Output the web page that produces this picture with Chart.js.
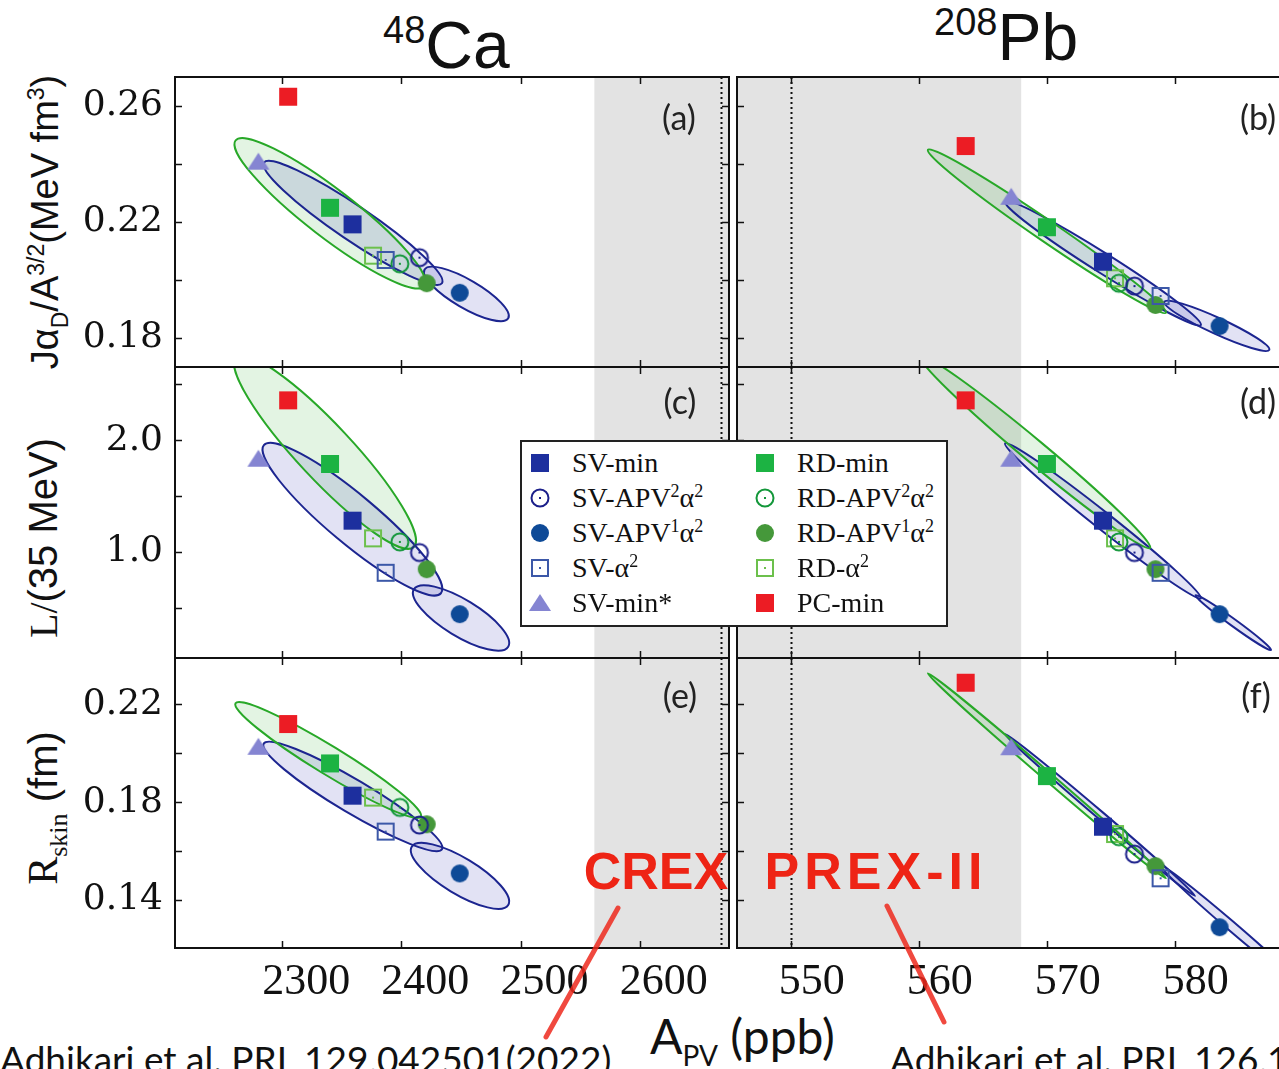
<!DOCTYPE html>
<html>
<head>
<meta charset="utf-8">
<title>APV correlations 48Ca / 208Pb</title>
<script src="https://cdn.jsdelivr.net/npm/chart.js@4.4.1/dist/chart.umd.min.js"></script>
<style>
html,body{margin:0;padding:0;background:#fff;}
#page{position:relative;width:1279px;height:1069px;overflow:hidden;background:#fff;}
#page canvas.panel{position:absolute;}
.t{position:absolute;white-space:nowrap;line-height:1;color:#111;}
.sans{font-family:'Liberation Sans',Arial,sans-serif;}
.lato{font-family:Lato,'Liberation Sans',sans-serif;}
.serif{font-family:'Liberation Serif','Times New Roman',serif;}
.rot{transform:translate(-50%,-50%) rotate(-90deg);}
.ctr{transform:translate(-50%,-50%);}
.plab{font-family:Lato,sans-serif;font-size:34px;color:#222;z-index:4;}
.exp{font-family:'Liberation Sans',Arial,sans-serif;font-weight:bold;font-size:52px;color:#ee2415;z-index:6;}
#legend{position:absolute;left:520px;top:440px;width:428px;height:187px;box-sizing:border-box;border:2px solid #222;background:#fff;z-index:5;}
#legend .li{position:absolute;height:30px;line-height:30px;font-family:'Liberation Serif',serif;font-size:28px;color:#111;white-space:nowrap;}
#legend .li canvas{position:absolute;left:0;top:2px;}
#legend .li span.lt{position:absolute;left:45px;top:0;}
#legend .sp{font-size:18px;position:relative;top:-10px;}
#marks{position:absolute;left:0;top:0;z-index:7;pointer-events:none;}
</style>
</head>
<body>
<div id="page">
  <div class="t sans" style="left:383px;top:12px;font-size:66px;"><span style="font-size:38px;position:relative;top:-25px;">48</span>Ca</div>
  <div class="t sans" style="left:934px;top:4px;font-size:66px;"><span style="font-size:38px;position:relative;top:-25px;">208</span>Pb</div>

  <div class="t sans rot" style="left:45px;top:222px;font-size:38px;">J&alpha;<span style="font-size:23px;position:relative;top:10px;">D</span>/A<span style="font-size:23px;position:relative;top:-14px;">3/2</span>(MeV fm<span style="font-size:23px;position:relative;top:-14px;">3</span>)</div>
  <div class="t rot" style="left:43px;top:538px;font-size:40px;"><span class="serif">L/</span><span class="sans">(35 MeV)</span></div>
  <div class="t rot" style="left:43px;top:808px;font-size:40px;"><span class="serif" style="font-size:42px;">R</span><span class="serif" style="font-size:26px;position:relative;top:10px;">skin</span><span class="sans"> (fm)</span></div>

  <div class="t plab ctr" style="left:679px;top:117px;">(a)</div>
  <div class="t plab ctr" style="left:1258px;top:117px;">(b)</div>
  <div class="t plab ctr" style="left:680px;top:401px;">(c)</div>
  <div class="t plab ctr" style="left:1258px;top:401px;">(d)</div>
  <div class="t plab ctr" style="left:680px;top:695px;">(e)</div>
  <div class="t plab ctr" style="left:1256px;top:695px;">(f)</div>

  <div class="t exp ctr" style="left:656px;top:871px;">CREX</div>
  <div class="t exp ctr" style="left:876px;top:871px;letter-spacing:5px;">PREX-II</div>

  <div class="t lato" style="left:650px;top:1012px;font-size:48px;">A<span style="font-size:28px;position:relative;top:12px;">PV</span> (ppb)</div>
  <div class="t lato" style="left:0px;top:1040px;font-size:37px;">Adhikari et al. PRL 129,042501(2022)</div>
  <div class="t lato" style="left:890px;top:1040px;font-size:37px;">Adhikari et al. PRL 126,172502(2021)</div>

  <div id="legend"></div>
  <svg id="marks" width="1279" height="1069">
    <line x1="618" y1="908" x2="546" y2="1037" stroke="#ee2a1e" stroke-width="5" stroke-linecap="round" opacity="0.85"/>
    <line x1="887" y1="906" x2="944" y2="1022" stroke="#ee2a1e" stroke-width="5" stroke-linecap="round" opacity="0.85"/>
  </svg>
</div>

<script>
// model order (also legend order: first five left column, last five right column)
const models = ['SV-min', 'SV-APV²α²', 'SV-APV¹α²', 'SV-α²', 'SV-min*',
                'RD-min', 'RD-APV²α²', 'RD-APV¹α²', 'RD-α²', 'PC-min'];

// A_PV in ppb
const apvCa = [2359.0, 2415.2, 2449.0, 2386.8, 2280.0, 2340.1, 2398.7, 2421.3, 2376.2, 2305.0];
const apvPb = [574.39, 576.85, 583.50, 578.89, 567.22, 570.01, 575.64, 578.49, 575.33, 563.66];

// J alpha_D / A^(3/2)  (MeV fm^3)
const alphaCa = [0.2192, 0.2077, 0.1956, 0.2069, 0.2408, 0.2249, 0.2056, 0.1989, 0.2084, 0.2632];
const alphaPb = [0.2063, 0.1979, 0.1841, 0.1945, 0.2287, 0.2182, 0.1989, 0.1914, 0.2006, 0.2462];

// L / (35 MeV), same model value in both columns
const slopeL = [1.281, 0.996, 0.445, 0.815, 1.835, 1.788, 1.091, 0.847, 1.123, 2.357];

// neutron skin (fm)
const skinCa = [0.1827, 0.1707, 0.1509, 0.1680, 0.2027, 0.1959, 0.1779, 0.1710, 0.1819, 0.2120];
const skinPb = [0.1700, 0.1588, 0.1289, 0.1489, 0.2025, 0.1907, 0.1659, 0.1539, 0.1670, 0.2289];

// measurements: central value and error
const crex = {value: 2668, err: 106};
const prex = {value: 550, err: 18};

// covariance ellipses: centre x, centre y, tip of long axis x, y, minor/major ratio, family
const ellA = [[2340.1, 0.2230, 2419.4, 0.1979, 0.20, 'RD'],
              [2359.4, 0.2197, 2434.1, 0.1989, 0.16, 'SV'],
              [2454.6, 0.1952, 2489.7, 0.1868, 0.29, 'SV']];
const ellB = [[570.01, 0.2168, 579.31, 0.1887, 0.072, 'RD'],
              [574.39, 0.2058, 582.04, 0.1845, 0.085, 'SV'],
              [583.28, 0.1842, 587.38, 0.1759, 0.14, 'SV']];
const ellC = [[2335.9, 1.895, 2410.4, 1.046, 0.21, 'RD'],
              [2358.9, 1.294, 2433.2, 0.632, 0.21, 'SV'],
              [2450.1, 0.411, 2489.7, 0.154, 0.33, 'SV']];
const ellD = [[569.08, 1.895, 578.07, 1.037, 0.075, 'RD'],
              [574.39, 1.280, 582.04, 0.587, 0.068, 'SV'],
              [584.57, 0.370, 587.52, 0.125, 0.075, 'SV']];
const ellE = [[2338.6, 0.1973, 2416.4, 0.1741, 0.13, 'RD'],
              [2359.3, 0.1824, 2434.1, 0.1608, 0.16, 'SV'],
              [2449.2, 0.1499, 2489.7, 0.1380, 0.32, 'SV']];
const ellF = [[570.01, 0.1908, 579.31, 0.1489, 0.027, 'RD'],
              [574.16, 0.1748, 581.58, 0.1417, 0.03, 'SV'],
              [584.32, 0.1298, 589.78, 0.1053, 0.05, 'SV']];

// ticks
const ticksCa = [2300, 2400, 2500, 2600];
const ticksPb = [550, 560, 570, 580];
const ticksAlpha = [0.18, 0.20, 0.22, 0.24, 0.26];
const labelsAlpha = ['0.18', '', '0.22', '', '0.26'];
const ticksL = [0.5, 1.0, 1.5, 2.0, 2.5];
const labelsL = ['', '1.0', '', '2.0', ''];
const ticksSkin = [0.14, 0.16, 0.18, 0.20, 0.22];
const labelsSkin = ['0.14', '', '0.18', '', '0.22'];

// marker looks
const markerShape = ['square', 'ocircle', 'circle', 'osquare', 'triangle',
                     'square', 'ocircle', 'circle', 'osquare', 'square'];
const markerColor = ['#1d2f9e', '#1b1f8a', '#0e4a97', '#3c58a8', '#8585d2',
                     '#1cb343', '#13973a', '#45983a', '#6cc04c', '#ec1c24'];

function makeMarker(shape, color) {
  const c = document.createElement('canvas');
  c.width = 26; c.height = 26;
  const g = c.getContext('2d');
  const m = 13;
  g.fillStyle = color; g.strokeStyle = color; g.lineWidth = 2;
  if (shape === 'square') {
    g.fillRect(m - 9, m - 9, 18, 18);
  } else if (shape === 'osquare') {
    g.strokeRect(m - 8, m - 8, 16, 16);
    g.fillRect(m - 1, m - 1, 2, 2);
  } else if (shape === 'circle') {
    g.beginPath(); g.arc(m, m, 9, 0, Math.PI * 2); g.fill();
  } else if (shape === 'ocircle') {
    g.beginPath(); g.arc(m, m, 8.5, 0, Math.PI * 2); g.stroke();
    g.fillRect(m - 1, m - 1, 2, 2);
  } else if (shape === 'triangle') {
    g.beginPath(); g.moveTo(m, m - 9); g.lineTo(m + 11, m + 8); g.lineTo(m - 11, m + 8);
    g.closePath(); g.fill();
  }
  return c;
}
const markerImg = models.map((m, i) => makeMarker(markerShape[i], markerColor[i]));

// legend (superscript digits set as raised text)
const legendBox = document.getElementById('legend');
models.forEach((m, i) => {
  const col = i < 5 ? 0 : 1, row = i % 5;
  const item = document.createElement('div');
  item.className = 'li';
  item.style.left = (col ? 230 : 5) + 'px';
  item.style.top = (6 + row * 35) + 'px';
  item.appendChild(makeMarker(markerShape[i], markerColor[i]));
  const s = document.createElement('span');
  s.className = 'lt';
  for (const ch of m) {
    if (ch === '²' || ch === '¹') {
      const sp = document.createElement('span');
      sp.className = 'sp';
      sp.textContent = ch === '²' ? '2' : '1';
      s.appendChild(sp);
    } else {
      s.appendChild(document.createTextNode(ch));
    }
  }
  item.appendChild(s);
  legendBox.appendChild(item);
});

// layout of the 2 x 3 grid (plot areas in page pixels)
const rowTop = [77, 367, 658];
const rowH = [290, 291, 290];
const xRange = [[2210, 2675], [545.8, 589.78]];
const yRange = [[0.170, 0.270], [0.053, 2.655], [0.1204, 0.239]];
const xTicks = [ticksCa, ticksPb];
const yTicks = [ticksAlpha, ticksL, ticksSkin];
const yLabels = [labelsAlpha, labelsL, labelsSkin];

const panels = [
  {row: 0, col: 0, x: apvCa, y: alphaCa, ell: ellA},
  {row: 0, col: 1, x: apvPb, y: alphaPb, ell: ellB},
  {row: 1, col: 0, x: apvCa, y: slopeL, ell: ellC},
  {row: 1, col: 1, x: apvPb, y: slopeL, ell: ellD},
  {row: 2, col: 0, x: apvCa, y: skinCa, ell: ellE},
  {row: 2, col: 1, x: apvPb, y: skinPb, ell: ellF}
];

function ellipsePath(ctx, xs, ys, e) {
  const cx = xs.getPixelForValue(e[0]), cy = ys.getPixelForValue(e[1]);
  const tx = xs.getPixelForValue(e[2]), ty = ys.getPixelForValue(e[3]);
  const a = Math.hypot(tx - cx, ty - cy);
  const ang = Math.atan2(ty - cy, tx - cx);
  ctx.beginPath();
  ctx.ellipse(cx, cy, a, a * e[4], ang, 0, Math.PI * 2);
}

function decor(p) {
  return {
    id: 'decor',
    beforeDatasetsDraw(chart) {
      const {ctx, chartArea: a, scales: {x, y}} = chart;
      const meas = p.col === 0 ? crex : prex;
      ctx.save();
      ctx.beginPath();
      ctx.rect(a.left, a.top, a.right - a.left, a.bottom - a.top);
      ctx.clip();
      // experimental band
      const x0 = x.getPixelForValue(meas.value - meas.err);
      const x1 = x.getPixelForValue(meas.value + meas.err);
      ctx.fillStyle = '#e3e3e3';
      ctx.fillRect(x0, a.top, x1 - x0, a.bottom - a.top);
      // central value
      const xc = Math.round(x.getPixelForValue(meas.value)) + 0.5;
      ctx.setLineDash([2, 3]);
      ctx.lineWidth = 2;
      ctx.strokeStyle = '#111';
      ctx.beginPath(); ctx.moveTo(xc, a.top); ctx.lineTo(xc, a.bottom); ctx.stroke();
      ctx.setLineDash([]);
      // ellipses: fills, then outlines (green on top)
      ['RD', 'SV'].forEach(fam => p.ell.filter(e => e[5] === fam).forEach(e => {
        ellipsePath(ctx, x, y, e);
        ctx.fillStyle = fam === 'RD' ? 'rgba(40,170,40,0.13)' : 'rgba(60,60,180,0.15)';
        ctx.fill();
      }));
      ['SV', 'RD'].forEach(fam => p.ell.filter(e => e[5] === fam).forEach(e => {
        ellipsePath(ctx, x, y, e);
        ctx.lineWidth = 2;
        ctx.strokeStyle = fam === 'RD' ? '#28a828' : '#1c2590';
        ctx.stroke();
      }));
      ctx.restore();
    },
    afterDatasetsDraw(chart) {
      const {ctx, chartArea: a, scales: {x, y}} = chart;
      ctx.save();
      ctx.strokeStyle = '#111';
      ctx.lineWidth = 2;
      ctx.strokeRect(a.left, a.top, a.right - a.left, a.bottom - a.top);
      ctx.lineWidth = 1.5;
      ctx.beginPath();
      x.ticks.forEach(t => {
        const px = Math.round(x.getPixelForValue(t.value)) + 0.5;
        ctx.moveTo(px, a.top); ctx.lineTo(px, a.top + 7);
        ctx.moveTo(px, a.bottom); ctx.lineTo(px, a.bottom - 7);
      });
      y.ticks.forEach(t => {
        const py = Math.round(y.getPixelForValue(t.value)) + 0.5;
        ctx.moveTo(a.left, py); ctx.lineTo(a.left + 7, py);
        ctx.moveTo(a.right, py); ctx.lineTo(a.right - 7, py);
      });
      ctx.stroke();
      ctx.restore();
    }
  };
}

// no label overhang padding: plot areas must sit exactly on the grid
function noPad(s) {
  s.paddingTop = 0; s.paddingBottom = 0; s.paddingLeft = 0; s.paddingRight = 0;
}

const page = document.getElementById('page');
const legendEl = document.getElementById('legend');

panels.forEach(p => {
  const cv = document.createElement('canvas');
  cv.className = 'panel';
  const left = p.col === 0 ? 0 : 732;
  const width = p.col === 0 ? 734 : 573;
  const top = rowTop[p.row] - 5;
  const height = rowH[p.row] + 10 + (p.row === 2 ? 70 : 0);
  cv.width = width; cv.height = height;
  cv.style.left = left + 'px'; cv.style.top = top + 'px';
  cv.style.width = width + 'px'; cv.style.height = height + 'px';
  page.insertBefore(cv, legendEl);

  const xt = xTicks[p.col], yt = yTicks[p.row], yl = yLabels[p.row];

  new Chart(cv, {
    type: 'scatter',
    data: {
      datasets: models.map((m, i) => ({
        label: m,
        data: [{x: p.x[i], y: p.y[i]}],
        pointStyle: markerImg[i],
        pointRadius: 10,
        pointHoverRadius: 10
      }))
    },
    options: {
      responsive: false,
      animation: false,
      events: [],
      layout: {autoPadding: false, padding: {left: p.col ? 5 : 0, right: 5, top: 5, bottom: 5}},
      plugins: {legend: {display: false}, tooltip: {enabled: false}},
      scales: {
        x: {
          type: 'linear', min: xRange[p.col][0], max: xRange[p.col][1],
          grid: {display: false, drawTicks: false}, border: {display: false},
          afterBuildTicks: s => { s.ticks = xt.map(v => ({value: v})); },
          afterFit: s => { s.height = p.row === 2 ? 70 : 0; noPad(s); },
          ticks: {
            display: p.row === 2, color: '#111', padding: 8,
            labelOffset: p.col ? 21 : 24,
            font: {family: "'Liberation Serif', serif", size: 44},
            callback: (v, i) => String(xt[i])
          }
        },
        y: {
          type: 'linear', min: yRange[p.row][0], max: yRange[p.row][1],
          grid: {display: false, drawTicks: false}, border: {display: false},
          afterBuildTicks: s => { s.ticks = yt.map(v => ({value: v})); },
          afterFit: s => { s.width = p.col === 0 ? 175 : 0; noPad(s); },
          ticks: {
            display: p.col === 0, color: '#111', padding: 12,
            font: {family: "'DejaVu Serif', serif", size: 36},
            callback: (v, i) => yl[i]
          }
        }
      }
    },
    plugins: [decor(p)]
  });
});
</script>
</body>
</html>
